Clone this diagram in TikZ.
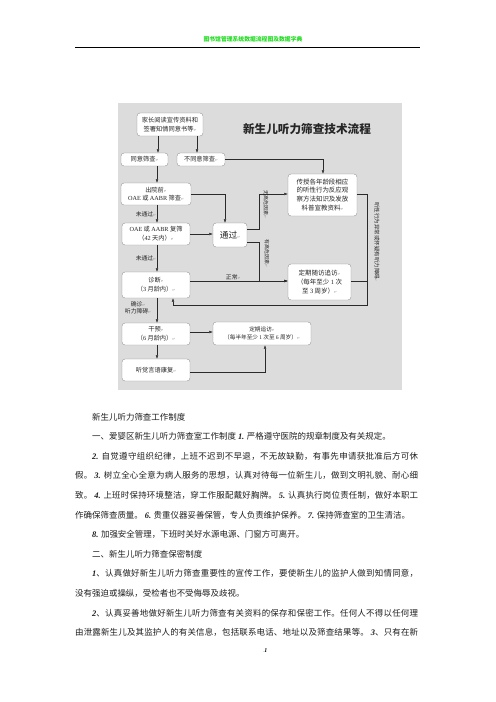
\documentclass[tikz,border=0pt]{standalone}
\usepackage{fontspec}
\setmainfont{Noto Sans CJK SC}
\newfontfamily\numf{Liberation Serif}
\newfontfamily\symf{DejaVu Sans}
\usetikzlibrary{arrows.meta}
\newcount\cjkcnt
\cjkcnt="4E00 \loop \XeTeXcharclass\cjkcnt=7 \advance\cjkcnt by 1 \ifnum\cjkcnt<"A000 \repeat
\cjkcnt="3000 \loop \XeTeXcharclass\cjkcnt=7 \advance\cjkcnt by 1 \ifnum\cjkcnt<"3040 \repeat
\cjkcnt="FF00 \loop \XeTeXcharclass\cjkcnt=7 \advance\cjkcnt by 1 \ifnum\cjkcnt<"FFF0 \repeat
\XeTeXinterchartoks 7 7 = {\hskip 0pt plus 2pt\relax}
\XeTeXinterchartoks 0 7 = {\hskip 0pt plus 2pt\relax}
\XeTeXinterchartoks 7 0 = {\hskip 0pt plus 2pt\relax}
\XeTeXinterchartokenstate=1
\definecolor{bggray}{HTML}{DCDCDC}
\definecolor{hdrgreen}{HTML}{22DD22}
\definecolor{boxgray}{HTML}{8A8A8A}
\definecolor{linec}{HTML}{2A2A2A}
\newdimen\pxu \pxu=0.4234mm
\newcommand\retmark{{\symf\fontsize{4}{4}\selectfont\textcolor{black!55}{↵}}}
\newcommand\bn[1]{{\numf\bfseries\itshape #1}}
\newcommand\lt[1]{{\numf #1}}
\newcommand\jline[2]{\hbox to #1{#2}}
\begin{document}
\begin{tikzpicture}[x=0.4234mm,y=-0.4234mm,
  box/.style={draw=boxgray, fill=white, rounded corners=1.3mm, line width=0.4pt, inner sep=0pt, align=center, font=\fontsize{7.5}{10.5}\selectfont, text=black!85},
  bigbox/.style={box, font=\fontsize{7.8}{10.8}\selectfont},
  lab/.style={inner sep=1pt, font=\fontsize{7}{9}\selectfont, text=black!85, align=center},
  vlab/.style={inner sep=1pt, font=\fontsize{6}{7}\selectfont, text=black!85, rotate=-90},
  arr/.style={draw=linec, line width=0.45pt, -{Latex[length=1.5mm,width=1.1mm]}},
  ln/.style={draw=linec, line width=0.45pt},
  bodyl/.style={anchor=west, inner sep=0pt, font=\fontsize{10.2}{12}\selectfont, text=black!88}]
\useasboundingbox (0,0) rectangle (496,702);
\fill[white] (0,0) rectangle (496,702);
% header
\node[inner sep=0pt, font=\fontsize{7}{8}\selectfont\bfseries, text=hdrgreen] (hdr) at (253,39) {图书馆管理系统数据流程图及数据字典};
\draw[line width=0.7pt] (75,47) -- (420,47);
% flowchart background
\fill[bggray] (118,103) rectangle (402,390);
\node[inner sep=0pt, font=\fontsize{14}{16}\selectfont\bfseries, text=black!85] (title) at (307,129) {新生儿听力筛查技术流程};
% boxes
\node[box, minimum width=66\pxu, minimum height=23\pxu] (b1) at (170,124.5) {家长阅读宣传资料和\\签署知情同意书等\retmark};
\node[box, minimum width=47\pxu, minimum height=13\pxu] (b2) at (144.5,159.5) {同意筛查\retmark};
\node[box, minimum width=48\pxu, minimum height=13\pxu] (b3) at (201,159.5) {不同意筛查\retmark};
\node[box, minimum width=70\pxu, minimum height=22\pxu] (b4) at (156,194) {出院前\retmark\\\lt{OAE} 或 \lt{AABR} 筛查\retmark};
\node[box, minimum width=68\pxu, minimum height=22\pxu] (b5) at (156,234) {\lt{OAE} 或 \lt{AABR} 复筛\\（\lt{42} 天内）\retmark};
\node[box, minimum width=34\pxu, minimum height=24\pxu, font=\fontsize{10.5}{12}\selectfont] (b6) at (230,235) {通过\retmark};
\node[box, minimum width=68\pxu, minimum height=26\pxu] (b7) at (156,285) {诊断\retmark\\（\lt{3} 月龄内）\retmark};
\node[box, minimum width=68\pxu, minimum height=22\pxu] (b8) at (156,334) {干预\retmark\\（\lt{6} 月龄内）\retmark};
\node[box, minimum width=68\pxu, minimum height=22\pxu] (b9) at (156,370) {听觉言语康复\retmark};
\node[box, minimum width=98\pxu, minimum height=23\pxu, font=\fontsize{6.8}{10}\selectfont] (b10) at (262,333.5) {定期追访\retmark\\（每半年至少 \lt{1} 次至 \lt{6} 周岁）\retmark};
\node[bigbox, minimum width=69\pxu, minimum height=42\pxu] (b11) at (322.5,195) {传授各年龄段相应\\的听性行为反应观\\察方法知识及发放\\科普宣教资料\retmark};
\node[bigbox, minimum width=63\pxu, minimum height=36\pxu] (b12) at (319.5,282) {定期随访追访\retmark\\（每年至少 \lt{1} 次\\至 \lt{3} 周岁）\retmark};
% connectors
\draw[arr] (b1.south -| 158,0) -- (b2.north -| 158,0);
\draw[arr] (b1.south -| 197,0) -- (b3.north -| 197,0);
\draw[arr] (b3.east) -| (b11.north -| 323,0);
\draw[arr] (b2.south -| 157,0) -- (b4.north -| 157,0);
\draw[arr] (b4.east) -| (b6.north -| 225,0);
\draw[arr] (b4.south -| 157,0) -- node[lab, left] (l1) {未通过\retmark} (b5.north -| 157,0);
\draw[arr] (b5.east) -- (b6.west |- b5.east);
\draw[arr] (b5.south -| 157,0) -- node[lab, left] (l2) {未通过\retmark} (b7.north -| 157,0);
\coordinate (j1) at (259,229);
\draw[arr] (b6.east |- j1) -- (j1) |- (b11.west |- 0,194);
\node[vlab] (l3) at (266,204) {无高危因素\retmark};
\coordinate (j2) at (259,242);
\draw[arr] (b6.east |- j2) -- (j2) |- (b12.west |- 0,281);
\node[vlab] (l4) at (267,253) {有高危因素\retmark};
\draw[arr] (b7.east |- 0,281) -- node[lab, above, pos=0.44] (l5) {正常\retmark} (b12.west |- 0,281);
\coordinate (j3) at (367,305);
\draw[arr] (b11.east |- 0,194) -| (j3) -| (b7.south -| 173,0);
\draw[ln] (b12.east |- 0,281) -- (j3 |- 0,281);
\node[vlab, font=\fontsize{6.6}{7}\selectfont] (l6) at (377,242) {听性行为异常或怀疑有听力障碍\retmark};
\draw[arr] (b7.south -| 157,0) -- (b8.north -| 157,0);
\node[lab] (l7) at (138,308) {确诊\retmark\\听力障碍\retmark};
\draw[arr] (b8.east |- 0,332) -- (b10.west |- 0,332);
\draw[arr] (b8.south -| 157,0) -- (b9.north -| 157,0);
\draw[arr] (b9.east |- 0,372) -| (b10.south -| 265,0);
% body text
\node[bodyl] (t1) at (92,417) {新生儿听力筛查工作制度};
\node[bodyl] (t2) at (92,436.6) {一、爱婴区新生儿听力筛查室工作制度 \bn{1.} 严格遵守医院的规章制度及有关规定。};
\node[bodyl] (t3) at (92,456.2) {\jline{326\pxu}{\bn{2.} 自觉遵守组织纪律，上班不迟到不早退，不无故缺勤，有事先申请获批准后方可休}};
\node[bodyl] (t4) at (75,475.8) {\jline{343\pxu}{假。 \bn{3.} 树立全心全意为病人服务的思想，认真对待每一位新生儿，做到文明礼貌、耐心细}};
\node[bodyl] (t5) at (75,495.4) {\jline{343\pxu}{致。 \bn{4.} 上班时保持环境整洁，穿工作服配戴好胸牌。 \bn{5.} 认真执行岗位责任制，做好本职工}};
\node[bodyl] (t6) at (75,515) {作确保筛查质量。 \bn{6.} 贵重仪器妥善保管，专人负责维护保养。 \bn{7.} 保持筛查室的卫生清洁。};
\node[bodyl] (t7) at (92,534.6) {\bn{8.} 加强安全管理，下班时关好水源电源、门窗方可离开。};
\node[bodyl] (t8) at (92,554.2) {二、新生儿听力筛查保密制度};
\node[bodyl] (t9) at (92,573.8) {\jline{326\pxu}{\bn{1}、认真做好新生儿听力筛查重要性的宣传工作，要使新生儿的监护人做到知情同意，}};
\node[bodyl] (t10) at (75,593.4) {没有强迫或操纵，受检者也不受侮辱及歧视。};
\node[bodyl] (t11) at (92,613) {\jline{326\pxu}{\bn{2}、认真妥善地做好新生儿听力筛查有关资料的保存和保密工作。任何人不得以任何理}};
\node[bodyl] (t12) at (75,632.6) {\jline{343\pxu}{由泄露新生儿及其监护人的有关信息，包括联系电话、地址以及筛查结果等。 \bn{3}、只有在新}};
\node[inner sep=0pt, font=\fontsize{7}{8}\selectfont] (pg) at (265,651) {\textcolor{hdrgreen}{.}\bn{1}};
\end{tikzpicture}
\end{document}
